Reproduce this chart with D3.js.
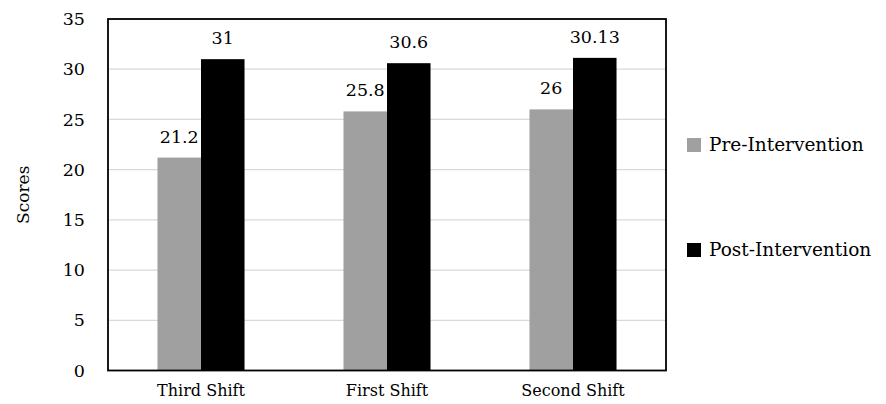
<!DOCTYPE html>
<html><head><meta charset="utf-8">
<script src="https://cdn.jsdelivr.net/npm/d3@7"></script>
<style>body{margin:0;background:#fff}svg{display:block}text{font-family:"DejaVu Serif",serif;fill:#000}</style>
</head><body>
<script>
const categories = ["Third Shift", "First Shift", "Second Shift"];
const seriesNames = ["Pre-Intervention", "Post-Intervention"];
const preValues = [21.2, 25.8, 26];
const postValues = [31, 30.6, 31.13];
const preLabels = ["21.2", "25.8", "26"];
const postLabels = ["31", "30.6", "30.13"];
const yTicks = [0, 5, 10, 15, 20, 25, 30, 35];
const colors = ["#a0a0a0", "#000000"];

const FONT = '"DejaVu Serif",serif';
const W = 886, H = 404;
const m = {left: 108, right: 886 - 666, top: 19, bottom: 404 - 370.5};
const svg = d3.select("body").append("svg").attr("width", W).attr("height", H);
const pw = W - m.left - m.right, ph = H - m.top - m.bottom;
const g = svg.append("g").attr("transform", `translate(${m.left},${m.top})`);

const x0 = d3.scaleBand().domain(categories).range([0, pw]).padding(0);
const barW = x0.bandwidth() * 0.234;
const x1 = d3.scaleBand().domain(seriesNames).range([x0.bandwidth()/2 - barW, x0.bandwidth()/2 + barW]);
const y = d3.scaleLinear().domain([0, 35]).range([ph, 0]);

// gridlines
g.append("g").selectAll("line").data(yTicks.slice(1, -1)).join("line")
  .attr("x1", 0).attr("x2", pw).attr("y1", d => y(d)).attr("y2", d => y(d))
  .attr("stroke", "#d9d9d9").attr("stroke-width", 1.3);

const series = [
  {name: seriesNames[0], values: preValues, labels: preLabels, color: colors[0]},
  {name: seriesNames[1], values: postValues, labels: postLabels, color: colors[1]}
];

series.forEach(s => {
  const sg = g.append("g");
  sg.selectAll("rect").data(categories).join("rect")
    .attr("x", (c) => x0(c) + x1(s.name))
    .attr("width", x1.bandwidth())
    .attr("y", (c, i) => y(s.values[i]))
    .attr("height", (c, i) => ph - y(s.values[i]))
    .attr("fill", s.color);
  sg.selectAll("text").data(categories).join("text")
    .attr("x", (c) => x0(c) + x1(s.name) + x1.bandwidth()/2)
    .attr("y", (c, i) => y(s.values[i]) - 15)
    .attr("text-anchor", "middle")
    .attr("font-family", FONT)
    .attr("font-size", 17.5)
    .text((c, i) => s.labels[i]);
});

// frame
g.append("rect").attr("x", 0).attr("y", 0).attr("width", pw).attr("height", ph)
  .attr("fill", "none").attr("stroke", "#000").attr("stroke-width", 1.8);

// y axis
const ya = g.append("g").call(d3.axisLeft(y).tickValues(yTicks).tickSize(0).tickPadding(23));
ya.select(".domain").remove();
ya.attr("font-family", FONT);
ya.selectAll("text").attr("font-size", 17.5).attr("font-family", FONT).attr("fill", "#000");

// x axis
const xa = g.append("g").attr("transform", `translate(0,${ph})`).call(d3.axisBottom(x0).tickSize(0).tickPadding(14));
xa.select(".domain").remove();
xa.attr("font-family", FONT);
xa.selectAll("text").attr("font-size", 16).attr("font-family", FONT).attr("fill", "#000");

// y title
svg.append("text").attr("transform", `translate(29,${m.top + ph/2}) rotate(-90)`)
  .attr("text-anchor", "middle").attr("font-family", FONT).attr("font-size", 17).text("Scores");

// legend
const leg = svg.append("g").attr("transform", "translate(687,0)");
const legY = [145, 250];
series.forEach((s, i) => {
  leg.append("rect").attr("x", 0).attr("y", legY[i] - 7).attr("width", 14).attr("height", 14).attr("fill", s.color);
  leg.append("text").attr("x", 22).attr("y", legY[i]).attr("dy", "0.35em").attr("font-family", FONT).attr("font-size", 18.5).text(s.name);
});
</script>
</body></html>
